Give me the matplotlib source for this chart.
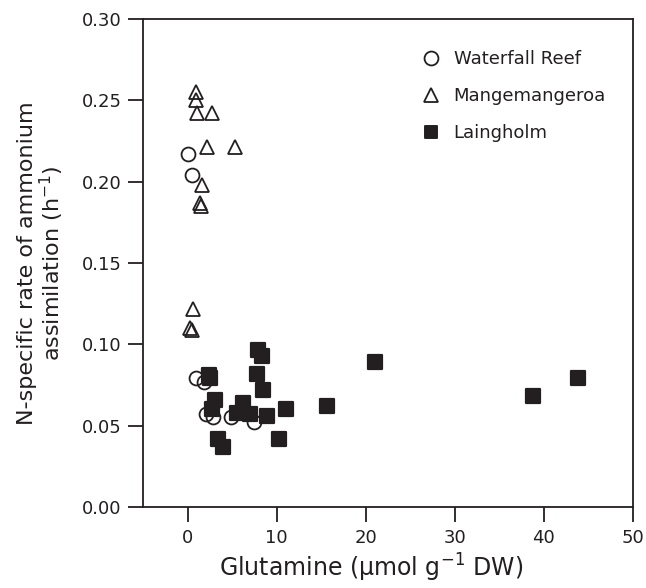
import matplotlib
matplotlib.use("Agg")
import matplotlib.pyplot as plt
from matplotlib.lines import Line2D
from matplotlib.markers import MarkerStyle

plt.rcParams['font.family'] = ['DejaVu Sans']
plt.rcParams['mathtext.fontset'] = 'dejavusans'
plt.rcParams['mathtext.default'] = 'regular'

# Waterfall Reef (open circles)
wr_x = [0.1, 0.5, 1.0, 1.9, 2.1, 2.9, 4.9, 7.5]
wr_y = [0.217, 0.204, 0.079, 0.077, 0.057, 0.055, 0.055, 0.052]

# Mangemangeroa (open triangles)
mm_x = [1.0, 0.9, 1.1, 2.7, 2.2, 5.3, 1.6, 1.4, 1.5, 0.6, 0.3, 0.5]
mm_y = [0.255, 0.250, 0.242, 0.242, 0.221, 0.221, 0.198, 0.187, 0.185, 0.122, 0.110, 0.109]

# Laingholm (filled squares)
lh_x = [2.4, 2.5, 3.1, 2.7, 3.4, 4.0, 6.2, 5.5, 7.0, 8.9, 7.9, 8.3, 7.8, 8.5,
        10.3, 11.1, 15.7, 21.0, 38.8, 43.8]
lh_y = [0.081, 0.079, 0.066, 0.060, 0.042, 0.037, 0.064, 0.058, 0.057, 0.056,
        0.0965, 0.093, 0.082, 0.072, 0.042, 0.060, 0.062, 0.089, 0.068, 0.079]

x_ticks = [0, 10, 20, 30, 40, 50]
y_ticks = [0.00, 0.05, 0.10, 0.15, 0.20, 0.25, 0.30]
labels = ['Waterfall Reef', 'Mangemangeroa', 'Laingholm']

fig = plt.figure(figsize=(6.46, 5.88), dpi=100)
ax = fig.add_axes([0.2214, 0.1378, 0.7585, 0.830])

ink = '#231f20'
sq = MarkerStyle('s', joinstyle='round')
ax.plot(wr_x, wr_y, 'o', ms=10, mfc='none', mec=ink, mew=1.3, ls='none', zorder=2)
ax.plot(mm_x, mm_y, '^', ms=10.5, mfc='none', mec=ink, mew=1.3, ls='none', zorder=2)
ax.plot(lh_x, lh_y, marker=sq, ms=9.5, mfc=ink, mec=ink, mew=1.6, ls='none', zorder=3)

ax.set_xlim(-5, 50)
ax.set_ylim(0, 0.30)
ax.set_xticks(x_ticks)
ax.set_yticks(y_ticks)
ax.set_yticklabels([f'{v:.2f}' for v in y_ticks])
ax.tick_params(direction='out', length=10.5, width=1.3, labelsize=13, colors=ink, pad=5)
for s in ax.spines.values():
    s.set_linewidth(1.3)
    s.set_color(ink)

ax.set_xlabel('Glutamine (µmol g$^{-1}$ DW)', fontsize=17, color=ink, labelpad=4)
ax.xaxis.set_label_coords(0.465, -0.092)
ax.set_ylabel('N-specific rate of ammonium\nassimilation (h$^{-1}$)', fontsize=16,
              color=ink, labelpad=11, linespacing=1.05)

handles = [
    Line2D([], [], marker='o', ls='none', ms=10, mfc='none', mec=ink, mew=1.3),
    Line2D([], [], marker='^', ls='none', ms=10.5, mfc='none', mec=ink, mew=1.3),
    Line2D([], [], marker=sq, ls='none', ms=9, mfc=ink, mec=ink, mew=1.4),
]
leg = ax.legend(handles, labels, loc='upper left', bbox_to_anchor=(0.571, 0.936),
                frameon=False, fontsize=13, handletextpad=0.75, labelspacing=1.05,
                handlelength=0.95, borderaxespad=0, borderpad=0)
for t in leg.get_texts():
    t.set_color(ink)

fig.savefig('out.png', dpi=100)
